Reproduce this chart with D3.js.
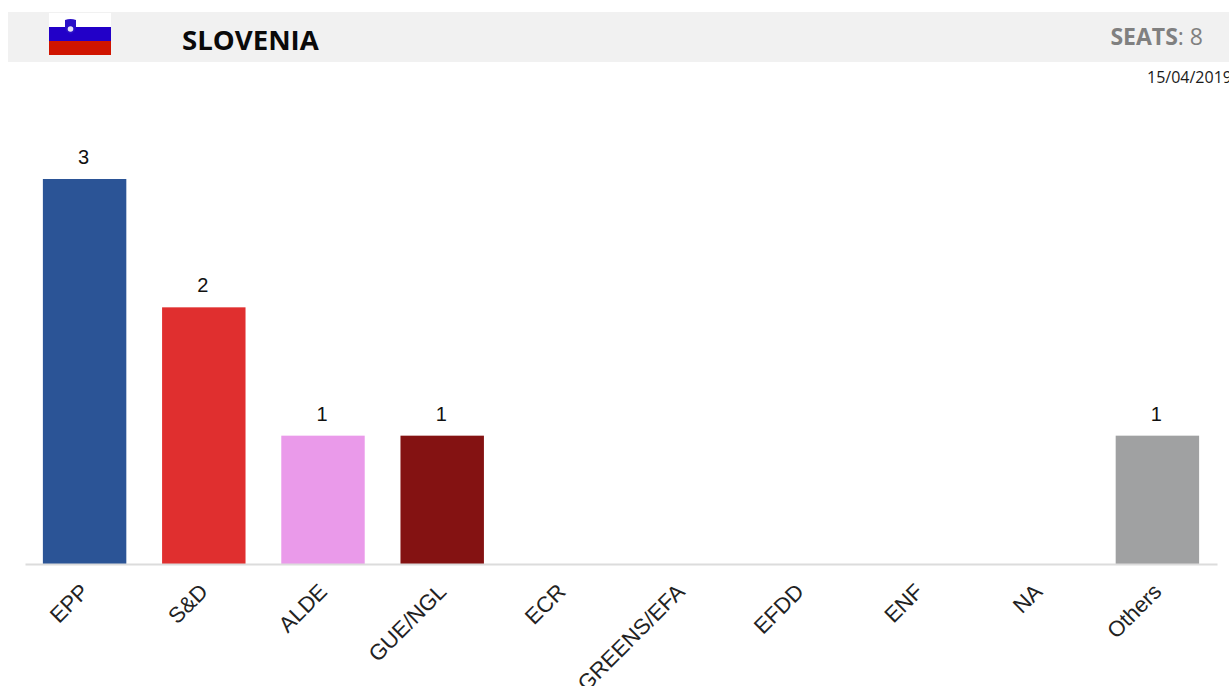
<!DOCTYPE html>
<html>
<head>
<meta charset="utf-8">
<title>Slovenia seats</title>
<script src="https://d3js.org/d3.v7.min.js"></script>
<style>
    html, body { margin: 0; padding: 0; background: #fff; overflow: hidden; }
    svg { display: block; }
</style>
</head>
<body>
<svg id="chart" width="1229" height="686"></svg>
<script>
// Chart data
const groups = ['EPP', 'S&D', 'ALDE', 'GUE/NGL', 'ECR', 'GREENS/EFA', 'EFDD', 'ENF', 'NA', 'Others'];
const seats = [3, 2, 1, 1, 0, 0, 0, 0, 0, 1];
const groupColors = ['#2b5496', '#e02f2f', '#ea9aea', '#841212', '#2f6fb5', '#3a9a3a', '#35b5b5', '#1f3f7a', '#777777', '#a0a1a2'];
const country = 'SLOVENIA';
const totalSeats = 8;
const updated = '15/04/2019';

const svg = d3.select('#chart');
const headerFont = '"Open Sans", sans-serif';
const chartFont = '"Liberation Sans", Arial, sans-serif';

// Header band
svg.append('rect')
    .attr('x', 8).attr('y', 12)
    .attr('width', 1221).attr('height', 50)
    .attr('fill', '#f1f1f1');

// Flag
const flag = svg.append('g').attr('transform', 'translate(49,13)');
flag.append('rect').attr('width', 62).attr('height', 14.5).attr('fill', '#ffffff');
flag.append('rect').attr('y', 14).attr('width', 62).attr('height', 14.5).attr('fill', '#2200c8');
flag.append('rect').attr('y', 28).attr('width', 62).attr('height', 14).attr('fill', '#d01400');
flag.append('path')
    .attr('d', 'M16,7 Q21.5,5 27,7 L27,14 Q27,19 21.5,21 Q16,19 16,14 Z')
    .attr('fill', '#2a10c8');
flag.append('circle').attr('cx', 21.5).attr('cy', 16).attr('r', 2.8).attr('fill', '#e8e4f8');

svg.append('text')
    .attr('x', 182).attr('y', 50)
    .attr('font-family', headerFont).attr('font-weight', 700).attr('font-size', 27.6)
    .attr('fill', '#0a0a0a')
    .text(country);

const seatsLabel = svg.append('text')
    .attr('x', 1203).attr('y', 45)
    .attr('text-anchor', 'end')
    .attr('font-family', headerFont).attr('font-size', 23)
    .attr('fill', '#808080');
seatsLabel.append('tspan').attr('font-weight', 700).text('SEATS');
seatsLabel.append('tspan').text(': ' + totalSeats);

// the date runs into the right edge, as in the source
svg.append('text')
    .attr('x', 1147).attr('y', 83)
    .attr('font-family', headerFont).attr('font-size', 16)
    .attr('fill', '#1a1a1a')
    .text(updated);

// Scales
const x = d3.scaleBand().domain(groups).range([25, 1217]).paddingInner(0.3).paddingOuter(0.15);
const y = d3.scaleLinear().domain([0, 3]).range([564, 179]);

// Bars, empty groups draw nothing
const rows = groups.map((g, i) => ({ group: g, value: seats[i], color: groupColors[i] }))
    .filter(d => d.value > 0);

svg.selectAll('.bar')
    .data(rows)
    .enter().append('rect')
    .attr('class', 'bar')
    .attr('x', d => x(d.group))
    .attr('y', d => y(d.value))
    .attr('width', x.bandwidth())
    .attr('height', d => y(0) - y(d.value))
    .attr('fill', d => d.color);

svg.selectAll('.bar-label')
    .data(rows)
    .enter().append('text')
    .attr('class', 'bar-label')
    .attr('x', d => x(d.group) + x.bandwidth() / 2 - 1)
    .attr('y', d => y(d.value) - 15)
    .attr('text-anchor', 'middle')
    .attr('font-family', chartFont).attr('font-size', 20)
    .attr('fill', '#111')
    .text(d => d.value);

// Category axis
const axis = svg.append('g')
    .attr('transform', `translate(0,${y(0)})`)
    .call(d3.axisBottom(x).tickSize(0).tickPadding(0));
axis.select('.domain').attr('stroke', '#dcdcdc').attr('stroke-width', 2);
axis.selectAll('text')
    .attr('font-family', chartFont).attr('font-size', 22)
    .attr('fill', '#222')
    .attr('text-anchor', 'end')
    .attr('dy', 0)
    .attr('transform', 'translate(5.5,29) rotate(-45)');
</script>
</body>
</html>
